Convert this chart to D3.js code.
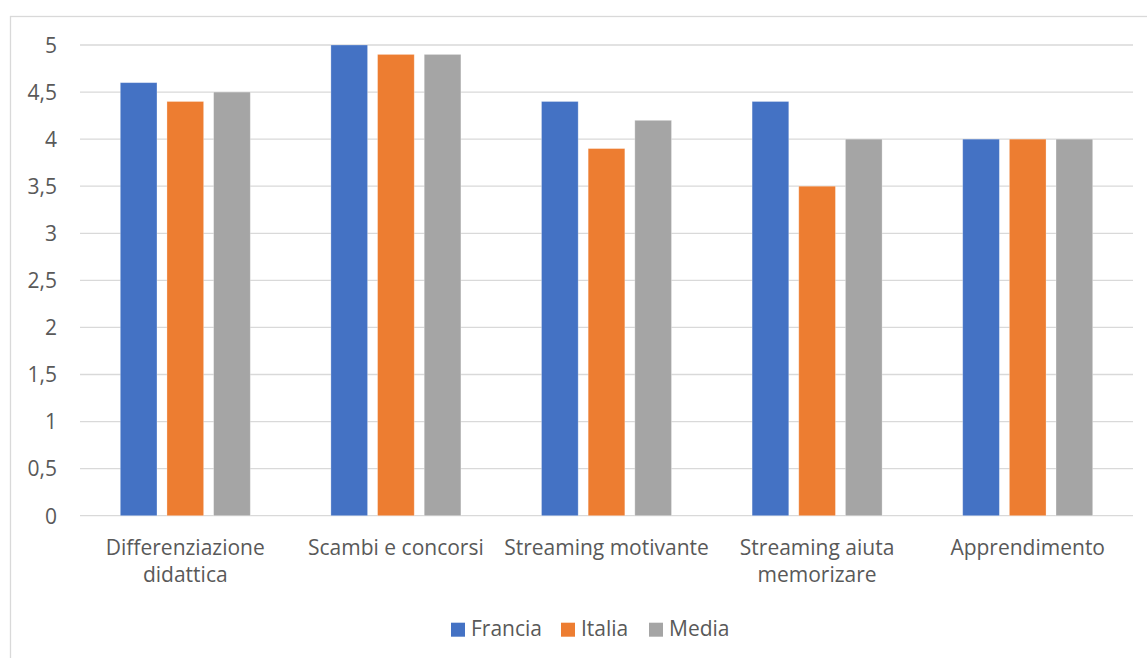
<!DOCTYPE html>
<html>
<head>
<meta charset="utf-8">
<script src="https://cdn.jsdelivr.net/npm/d3@7"></script>
<style>
  html, body { margin: 0; padding: 0; background: #fff; }
  svg { display: block; }
  text { font-family: "Open Sans", Lato, sans-serif; fill: #595959; }
</style>
</head>
<body>
<svg id="chart" width="1147" height="658"></svg>
<script>
// Categories (each label split into its display lines)
const categories = [
  ["Differenziazione", "didattica"],
  ["Scambi e concorsi"],
  ["Streaming motivante"],
  ["Streaming aiuta", "memorizare"],
  ["Apprendimento"]
];
const seriesNames = ["Francia", "Italia", "Media"];
const francia = [4.6, 5.0, 4.4, 4.4, 4.0];
const italia  = [4.4, 4.9, 3.9, 3.5, 4.0];
const media   = [4.5, 4.9, 4.2, 4.0, 4.0];
const yTicks  = [0, 0.5, 1, 1.5, 2, 2.5, 3, 3.5, 4, 4.5, 5];
const colors  = ["#4472C4", "#ED7D31", "#A5A5A5"];

const seriesValues = [francia, italia, media];
const catKeys = categories.map(c => c.join(" "));
const fontSize = 21;

const svg = d3.select("#chart");

// Outer chart frame
svg.append("rect")
  .attr("x", 10.5).attr("y", 16.5)
  .attr("width", 1150).attr("height", 660)
  .attr("fill", "#fff")
  .attr("stroke", "#D9D9D9").attr("stroke-width", 1.3);

const plot = { left: 80, right: 1133, top: 45, bottom: 515.7 };

const y = d3.scaleLinear().domain([0, 5]).range([plot.bottom, plot.top]);
const x0 = d3.scaleBand().domain(catKeys).range([plot.left, plot.right]).padding(0);
const groupWidth = 130;
const x1 = d3.scaleBand().domain(seriesNames).range([0, groupWidth])
  .paddingInner(0.214).paddingOuter(0);

const fmt = v => String(v).replace(".", ",");

// Horizontal gridlines
svg.append("g")
  .selectAll("line")
  .data(yTicks)
  .join("line")
  .attr("x1", plot.left).attr("x2", plot.right)
  .attr("y1", d => y(d)).attr("y2", d => y(d))
  .attr("stroke", "#D9D9D9").attr("stroke-width", 1.3);

// Y axis tick labels
const yAxis = d3.axisLeft(y).tickValues(yTicks).tickFormat(fmt).tickSize(0).tickPadding(0);
const yg = svg.append("g").attr("transform", `translate(57,0)`).call(yAxis);
yg.select(".domain").remove();
yg.selectAll("text")
  .attr("font-size", fontSize)
  .attr("font-family", "'Open Sans', Lato, sans-serif")
  .attr("fill", "#595959")
  .attr("dy", "0.35em");

// Bars
const groups = svg.append("g")
  .selectAll("g")
  .data(catKeys)
  .join("g")
  .attr("transform", d => `translate(${x0(d) + (x0.bandwidth() - groupWidth) / 2},0)`);

groups.selectAll("rect")
  .data((d, i) => seriesNames.map((s, j) => ({ s, j, v: seriesValues[j][i] })))
  .join("rect")
  .attr("x", d => x1(d.s))
  .attr("width", x1.bandwidth())
  .attr("y", d => y(d.v))
  .attr("height", d => y(0) - y(d.v))
  .attr("fill", d => colors[d.j])
  .attr("stroke", "#fff").attr("stroke-opacity", 0.35).attr("stroke-width", 0.8);

// Category labels
const xAxis = svg.append("g");
categories.forEach((lines, i) => {
  const t = xAxis.append("text")
    .attr("x", x0(catKeys[i]) + x0.bandwidth() / 2)
    .attr("y", 554.5)
    .attr("text-anchor", "middle")
    .attr("font-size", fontSize);
  lines.forEach((ln, k) => {
    t.append("tspan")
      .attr("x", x0(catKeys[i]) + x0.bandwidth() / 2)
      .attr("dy", k === 0 ? 0 : 27)
      .text(ln);
  });
});

// Legend
const legendX = [451, 561, 649];
const legend = svg.append("g");
seriesNames.forEach((s, i) => {
  legend.append("rect")
    .attr("x", legendX[i]).attr("y", 622.7)
    .attr("width", 14).attr("height", 14)
    .attr("fill", colors[i]);
  legend.append("text")
    .attr("x", legendX[i] + 20).attr("y", 636)
    .attr("font-size", fontSize)
    .text(s);
});
</script>
</body>
</html>
